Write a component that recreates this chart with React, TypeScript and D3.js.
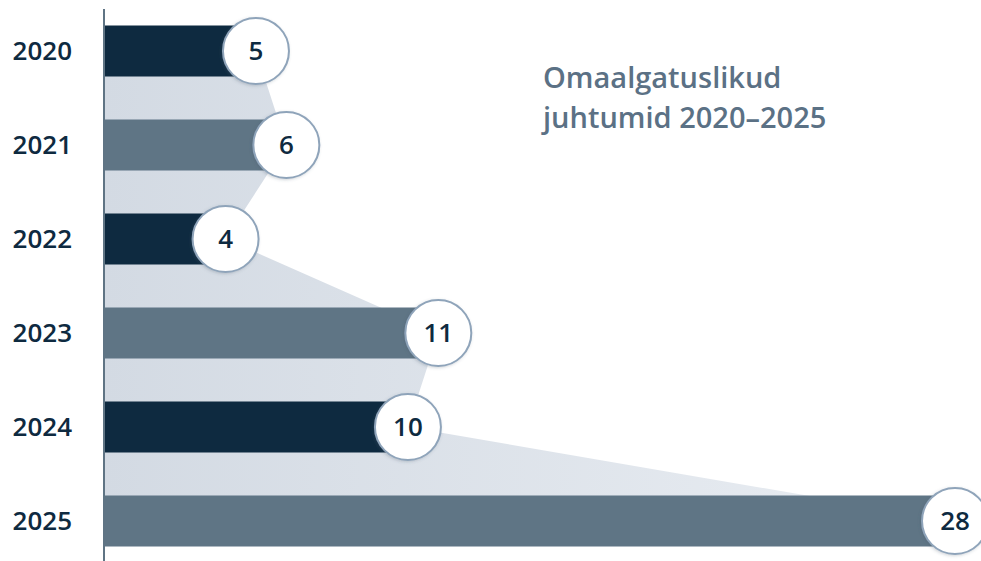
import React from "react";
import * as d3 from "d3";

const years = ["2020", "2021", "2022", "2023", "2024", "2025"];
const values = [5, 6, 4, 11, 10, 28];
const barColors = ["#0e2a40", "#5f7585"];
const titleLines = ["Omaalgatuslikud", "juhtumid 2020–2025"];

const W = 981;
const H = 561;

export default function App() {
  const x = d3.scaleLinear().domain([0, 28]).range([104, 955]);
  const y = d3.scalePoint<string>().domain(years).range([51, 521]);
  const barH = 51;
  const r = 33;

  const data = years.map((yr, i) => ({ yr, v: values[i] }));
  const area = d3
    .area<{ yr: string; v: number }>()
    .y((d) => y(d.yr) as number)
    .x0(x(0))
    .x1((d) => x(d.v));

  return (
    <svg
      width={W}
      height={H}
      style={{ position: "absolute", left: 0, top: 0, fontFamily: "'Open Sans', sans-serif" }}
    >
      <defs>
        <linearGradient id="bandGrad" gradientUnits="userSpaceOnUse" x1={x(0)} x2={x(28)} y1={0} y2={0}>
          <stop offset="0" stopColor="#d3dae3" />
          <stop offset="1" stopColor="#eaeef3" />
        </linearGradient>
        <filter id="sh" x="-30%" y="-30%" width="160%" height="160%">
          <feDropShadow dx="-1" dy="1" stdDeviation="1.5" floodColor="#445566" floodOpacity="0.25" />
        </filter>
      </defs>
      <rect width={W} height={H} fill="#ffffff" />
      <path d={area(data) || ""} fill="url(#bandGrad)" />
      {data.map((d, i) => (
        <rect
          key={d.yr}
          x={x(0) + 1}
          y={(y(d.yr) as number) - barH / 2}
          width={x(d.v) - x(0) - 1}
          height={barH}
          fill={barColors[i % 2]}
        />
      ))}
      <line x1={x(0)} x2={x(0)} y1={9} y2={H} stroke="#5f7484" strokeWidth={2} />
      {data.map((d) => (
        <text
          key={"l" + d.yr}
          x={72}
          y={y(d.yr) as number}
          dy="0.36em"
          textAnchor="end"
          fontSize={26}
          fontWeight={600}
          fill="#0e2a40"
        >
          {d.yr}
        </text>
      ))}
      {data.map((d) => (
        <g key={"c" + d.yr} transform={`translate(${x(d.v)},${y(d.yr)})`}>
          <circle r={r} fill="#ffffff" stroke="#8fa4ba" strokeWidth={2} filter="url(#sh)" />
          <text textAnchor="middle" dy="0.36em" fontSize={26} fontWeight={600} fill="#0e2a40">
            {d.v}
          </text>
        </g>
      ))}
      {titleLines.map((t, i) => (
        <text key={t} x={543} y={88 + i * 40} fontSize={29} fontWeight={600} fill="#5b7185">
          {t}
        </text>
      ))}
    </svg>
  );
}
